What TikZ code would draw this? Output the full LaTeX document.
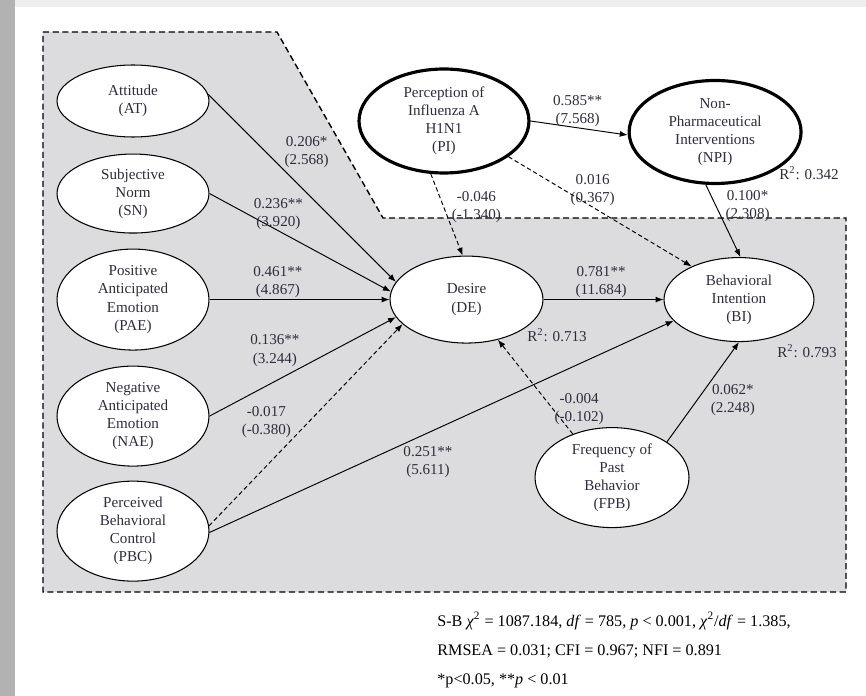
\documentclass[tikz,border=0pt]{standalone}
\usepackage{fontspec}
\setmainfont{Liberation Serif}
\usepackage{xcolor}
\usepackage{tikz}
\usetikzlibrary{shapes.geometric, arrows.meta, positioning}
\definecolor{inkgray}{RGB}{45, 45, 62}
\definecolor{panelgray}{RGB}{220, 220, 222}
\definecolor{stripgray}{RGB}{178, 178, 178}
\definecolor{bargray}{RGB}{238, 238, 238}

\begin{document}
\begin{tikzpicture}[x=0.02cm, y=-0.02cm,
        construct/.style={ellipse, draw=black, fill=white, line width=0.6pt, inner sep=0pt, minimum width=3.04cm, align=center, text=inkgray, font=\fontsize{8.6}{10.3}\selectfont},
        keyconstruct/.style={construct, line width=1.8pt},
        arrow/.style={-{Latex[length=4.5pt, width=3.4pt]}, line width=0.55pt, color=black},
        dasharrow/.style={arrow, dash pattern=on 2.5pt off 1.6pt},
        coef/.style={align=center, inner sep=0.5pt, text=inkgray, font=\fontsize{8.6}{10.3}\selectfont},
        rsq/.style={inner sep=0pt, text=inkgray, font=\fontsize{8.6}{10.3}\selectfont},
        note/.style={align=left, inner sep=0pt, text=black, font=\fontsize{9.2}{16.4}\selectfont}
    ]
        \useasboundingbox (0,0) rectangle (866,696);
        \fill[stripgray] (0,0) rectangle (15,696);
        \fill[bargray] (15,0) rectangle (866,7);
        \filldraw[fill=panelgray, draw=black, line width=0.8pt, dash pattern=on 3.5pt off 2pt] (43,32) -- (277,32) -- (383,218) -- (846,218) -- (846,592) -- (43,592) -- cycle;

        \node[construct, minimum height=1.44cm] (at) at (133,101) {Attitude\\(AT)};
        \node[construct, minimum height=1.58cm, below=0.32cm of at] (sn) {Subjective\\Norm\\(SN)};
        \node[construct, minimum height=2.02cm, below=0.3cm of sn] (pae) {Positive\\Anticipated\\Emotion\\(PAE)};
        \node[construct, minimum height=2.0cm, below=0.3cm of pae] (nae) {Negative\\Anticipated\\Emotion\\(NAE)};
        \node[construct, minimum height=2.0cm, below=0.28cm of nae] (pbc) {Perceived\\Behavioral\\Control\\(PBC)};
        \node[construct, minimum width=3.06cm, minimum height=1.74cm, right=3.6cm of pae] (de) {Desire\\(DE)};
        \node[construct, minimum width=3.0cm, minimum height=1.68cm, right=2.4cm of de] (bi) {Behavioral\\Intention\\(BI)};
        \node[keyconstruct, minimum width=3.4cm, minimum height=2.08cm, above=1.62cm of de, xshift=-0.45cm] (pi) {Perception of\\Influenza A\\H1N1\\(PI)};
        \node[keyconstruct, minimum width=3.44cm, minimum height=2.06cm, right=1.94cm of pi, yshift=-0.22cm] (npi) {Non-\\Pharmaceutical\\Interventions\\(NPI)};
        \node[construct, minimum width=3.08cm, minimum height=2.0cm, below=1.7cm of bi, xshift=-2.54cm] (fpb) {Frequency of\\Past\\Behavior\\(FPB)};

        \draw[arrow] (at.5) -- node[coef, pos=0.4, above right] {0.206*\\(2.568)} (de.166);
        \draw[arrow] (sn.east) -- node[coef, pos=0.38, above] {0.236**\\(3.920)} (de.174);
        \draw[arrow] (pae.east) -- node[coef, pos=0.38, above] {0.461**\\(4.867)} (de.west);
        \draw[arrow] (nae.east) -- node[coef, pos=0.49, above left] {0.136**\\(3.244)} (de.194);
        \draw[dasharrow] (pbc.4) -- node[coef, pos=0.43, above left] {-0.017\\(-0.380)} (de.201);
        \draw[arrow] (pbc.-1) -- node[coef, pos=0.415, below right] {0.251**\\(5.611)} (bi.198);
        \draw[arrow] (de.east) -- node[coef, pos=0.48, above] {0.781**\\(11.684)} (bi.west);
        \draw[arrow] (pi.east) -- node[coef, pos=0.485, above] {0.585**\\(7.568)} (npi.182);
        \draw[dasharrow] (pi.256) -- node[coef, pos=0.62, above right] {-0.046\\(-1.340)} (de.95);
        \draw[dasharrow] (pi.331) -- node[coef, pos=0.46, above] {0.016\\(0.367)} (bi.145);
        \draw[arrow] (npi.260) -- node[coef, pos=0.53, above right] {0.100*\\(2.308)} (bi.88);
        \draw[dasharrow] (fpb.132) -- node[coef, pos=0.26, right] {-0.004\\(-0.102)} (de.308);
        \draw[arrow] (fpb.33) -- node[coef, pos=0.59, below right] {0.062*\\(2.248)} (bi.south);

        \node[rsq] (r2de) at (557,335) {R\textsuperscript{2}: 0.713};
        \node[rsq] (r2bi) at (807,351) {R\textsuperscript{2}: 0.793};
        \node[rsq] (r2npi) at (809,173) {R\textsuperscript{2}: 0.342};

        \node[note, anchor=north west] (fitidx) at (437,612) {S-B \textit{χ}\textsuperscript{2} = 1087.184, \textit{df} = 785, \textit{p} < 0.001, \textit{χ}\textsuperscript{2}/\textit{df} = 1.385,\\RMSEA = 0.031; CFI = 0.967; NFI = 0.891\\\relax *p<0.05, **\textit{p} < 0.01};
    \end{tikzpicture}
\end{document}
